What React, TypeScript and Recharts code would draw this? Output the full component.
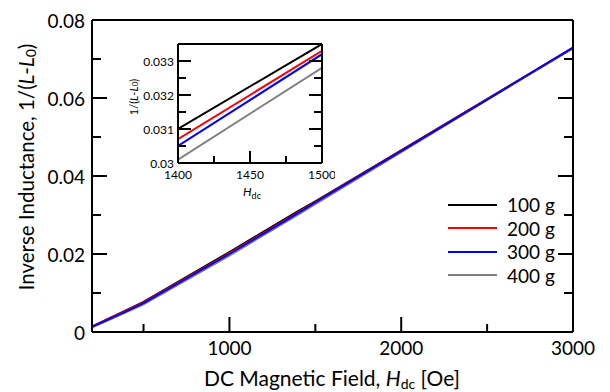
import { LineChart, Line, XAxis, YAxis, Legend } from "recharts";

// DC field (Oe)
const fieldOe = [200, 300, 400, 500, 1000, 1400, 1500, 2000, 2500, 3000];

// 1/(L-L0) for each load
const inv100g = [0.0014, 0.0035, 0.0056, 0.0077, 0.0205, 0.031, 0.0335, 0.0466, 0.0597, 0.0728];
const inv200g = [0.0014, 0.0035, 0.0055, 0.0076, 0.0202, 0.0307, 0.0333, 0.0465, 0.0597, 0.0729];
const inv300g = [0.0013, 0.0033, 0.0053, 0.0074, 0.02, 0.0305, 0.0332, 0.0464, 0.0596, 0.0729];
const inv400g = [0.0012, 0.0031, 0.0051, 0.0071, 0.0196, 0.0301, 0.0328, 0.0461, 0.0595, 0.0728];

const loads = ["100 g", "200 g", "300 g", "400 g"];
const colors = ["#000000", "#ff0000", "#0000ff", "#808080"];

const mainXTicks = [500, 1000, 1500, 2000, 2500, 3000];
const mainXLabels = ["", "1000", "", "2000", "", "3000"];
const mainYTicks = [0, 0.01, 0.02, 0.03, 0.04, 0.05, 0.06, 0.07, 0.08];
const mainYLabels = ["0", "", "0.02", "", "0.04", "", "0.06", "", "0.08"];

const insetXTicks = [1400, 1425, 1450, 1475, 1500];
const insetXLabels = ["1400", "", "1450", "", "1500"];
const insetYTicks = [0.03, 0.0305, 0.031, 0.0315, 0.032, 0.0325, 0.033, 0.0335];
const insetYLabels = ["0.03", "", "0.031", "", "0.032", "", "0.033", ""];

const keys = ["g100", "g200", "g300", "g400"];
const data = fieldOe.map((h, i) => ({
  h,
  g100: inv100g[i],
  g200: inv200g[i],
  g300: inv300g[i],
  g400: inv400g[i],
}));

// blue sits on top in the original, so gray goes before it
const drawOrder = [0, 1, 3, 2];

const FONT = "Lato, 'Noto Sans', sans-serif";

const AxisTick = (props: any) => {
  const { x, y, index, side, labels, showText, major, minor, fontSize, gap } = props;
  const label = labels[index];
  const len = label ? major : minor;
  let line;
  if (side === "bottom") line = <line x1={x} y1={y} x2={x} y2={y - len} />;
  else if (side === "top") line = <line x1={x} y1={y} x2={x} y2={y + len} />;
  else if (side === "left") line = <line x1={x} y1={y} x2={x + len} y2={y} />;
  else line = <line x1={x} y1={y} x2={x - len} y2={y} />;
  return (
    <g stroke="#000" strokeWidth={2}>
      {line}
      {showText && label && side === "bottom" && (
        <text x={x} y={y + gap} textAnchor="middle" fontSize={fontSize} fontFamily={FONT} fill="#000" stroke="none">
          {label}
        </text>
      )}
      {showText && label && side === "left" && (
        <text x={x - gap} y={y} textAnchor="end" dominantBaseline="central" fontSize={fontSize} fontFamily={FONT} fill="#000" stroke="none">
          {label}
        </text>
      )}
    </g>
  );
};

const MainYTitle = () => (
  <text x={26} y={167} transform="rotate(-90 26 167)" textAnchor="middle" dominantBaseline="central" fontSize={20.5} fontFamily={FONT} fill="#000">
    Inverse Inductance, 1/(<tspan fontStyle="italic">L</tspan>-<tspan fontStyle="italic">L</tspan>
    <tspan fontSize={14} dy={4}>0</tspan>
    <tspan dy={-4}>)</tspan>
  </text>
);

const MainXTitle = () => (
  <text x={332} y={386} textAnchor="middle" fontSize={21} fontFamily={FONT} fill="#000">
    DC Magnetic Field, <tspan fontStyle="italic">H</tspan>
    <tspan fontSize={14} dy={3}>dc</tspan>
    <tspan dy={-3}> [Oe]</tspan>
  </text>
);

const InsetYTitle = () => (
  <text x={13} y={67} transform="rotate(-90 13 67)" textAnchor="middle" dominantBaseline="central" fontSize={11} fontFamily={FONT} fill="#000">
    1/(<tspan fontStyle="italic">L</tspan>-<tspan fontStyle="italic">L</tspan>
    <tspan fontSize={8} dy={2}>0</tspan>
    <tspan dy={-2}>)</tspan>
  </text>
);

const InsetXTitle = () => (
  <text x={132} y={166} textAnchor="middle" fontSize={12} fontFamily={FONT} fill="#000">
    <tspan fontStyle="italic">H</tspan>
    <tspan fontSize={9} dy={3}>dc</tspan>
  </text>
);

const LegendBox = () => (
  <div style={{ fontFamily: FONT, fontSize: 19, color: "#000" }}>
    {loads.map((name, i) => (
      <div key={name} style={{ display: "flex", alignItems: "center", height: 23.5 }}>
        <span style={{ display: "inline-block", width: 49, height: 2, background: colors[i], marginRight: 10 }} />
        <span>{name}</span>
      </div>
    ))}
  </div>
);

const axisLine = { stroke: "#000", strokeWidth: 2 };

export default function App() {
  return (
    <div style={{ position: "absolute", left: 0, top: 0, width: 610, height: 392, background: "#fff" }}>
      <LineChart width={610} height={392} data={data} margin={{ top: 19, right: 36, bottom: 0, left: 0 }}>
        <XAxis
          dataKey="h"
          type="number"
          domain={[200, 3000]}
          ticks={mainXTicks}
          interval={0}
          height={60}
          tickSize={0}
          tickMargin={0}
          axisLine={axisLine}
          tickLine={false}
          label={<MainXTitle />}
          tick={(p: any) => <AxisTick {...p} side="bottom" labels={mainXLabels} showText major={15} minor={8} fontSize={19} gap={23} />}
        />
        <XAxis
          xAxisId="top"
          orientation="top"
          type="number"
          domain={[200, 3000]}
          allowDataOverflow
          ticks={mainXTicks}
          interval={0}
          height={1}
          tickSize={0}
          tickMargin={0}
          axisLine={axisLine}
          tickLine={false}
          tick={(p: any) => <AxisTick {...p} side="top" labels={mainXLabels} major={15} minor={8} />}
        />
        <YAxis
          type="number"
          domain={[0, 0.08]}
          ticks={mainYTicks}
          interval={0}
          width={92}
          tickSize={0}
          tickMargin={0}
          axisLine={axisLine}
          tickLine={false}
          label={<MainYTitle />}
          tick={(p: any) => <AxisTick {...p} side="left" labels={mainYLabels} showText major={15} minor={9} fontSize={19} gap={7} />}
        />
        <YAxis
          yAxisId="right"
          orientation="right"
          type="number"
          domain={[0, 0.08]}
          allowDataOverflow
          ticks={mainYTicks}
          interval={0}
          width={1}
          tickSize={0}
          tickMargin={0}
          axisLine={axisLine}
          tickLine={false}
          tick={(p: any) => <AxisTick {...p} side="right" labels={mainYLabels} major={15} minor={9} />}
        />
        {drawOrder.map((i) => (
          <Line
            key={keys[i]}
            dataKey={keys[i]}
            name={loads[i]}
            stroke={colors[i]}
            strokeWidth={2}
            dot={false}
            type="linear"
            isAnimationActive={false}
          />
        ))}
        <Legend
          layout="vertical"
          align="center"
          verticalAlign="middle"
          wrapperStyle={{ left: 448, top: 193, width: 130 }}
          content={() => <LegendBox />}
        />
      </LineChart>

      <div style={{ position: "absolute", left: 120, top: 30 }}>
        <LineChart width={215} height={175} data={data} margin={{ top: 13, right: 12, bottom: 0, left: 0 }}>
          <XAxis
            dataKey="h"
            type="number"
            domain={[1400, 1500]}
            allowDataOverflow
            ticks={insetXTicks}
            interval={0}
            height={42}
            tickSize={0}
            tickMargin={0}
            axisLine={axisLine}
            tickLine={false}
            label={<InsetXTitle />}
            tick={(p: any) => <AxisTick {...p} side="bottom" labels={insetXLabels} showText major={12} minor={7} fontSize={12} gap={16} />}
          />
          <XAxis
            xAxisId="top"
            orientation="top"
            type="number"
            domain={[1400, 1500]}
            allowDataOverflow
            ticks={insetXTicks}
            interval={0}
            height={1}
            tickSize={0}
            tickMargin={0}
            axisLine={axisLine}
            tickLine={false}
            tick={(p: any) => <AxisTick {...p} side="top" labels={insetXLabels} major={12} minor={7} />}
          />
          <YAxis
            type="number"
            domain={[0.03, 0.0335]}
            allowDataOverflow
            ticks={insetYTicks}
            interval={0}
            width={58}
            tickSize={0}
            tickMargin={0}
            axisLine={axisLine}
            tickLine={false}
            label={<InsetYTitle />}
            tick={(p: any) => <AxisTick {...p} side="left" labels={insetYLabels} showText major={13} minor={8} fontSize={12} gap={4} />}
          />
          <YAxis
            yAxisId="right"
            orientation="right"
            type="number"
            domain={[0.03, 0.0335]}
            allowDataOverflow
            ticks={insetYTicks}
            interval={0}
            width={1}
            tickSize={0}
            tickMargin={0}
            axisLine={axisLine}
            tickLine={false}
            tick={(p: any) => <AxisTick {...p} side="right" labels={insetYLabels} major={13} minor={8} />}
          />
          {drawOrder.map((i) => (
            <Line
              key={keys[i]}
              dataKey={keys[i]}
              stroke={colors[i]}
              strokeWidth={2}
              dot={false}
              type="linear"
              isAnimationActive={false}
            />
          ))}
        </LineChart>
      </div>
    </div>
  );
}
